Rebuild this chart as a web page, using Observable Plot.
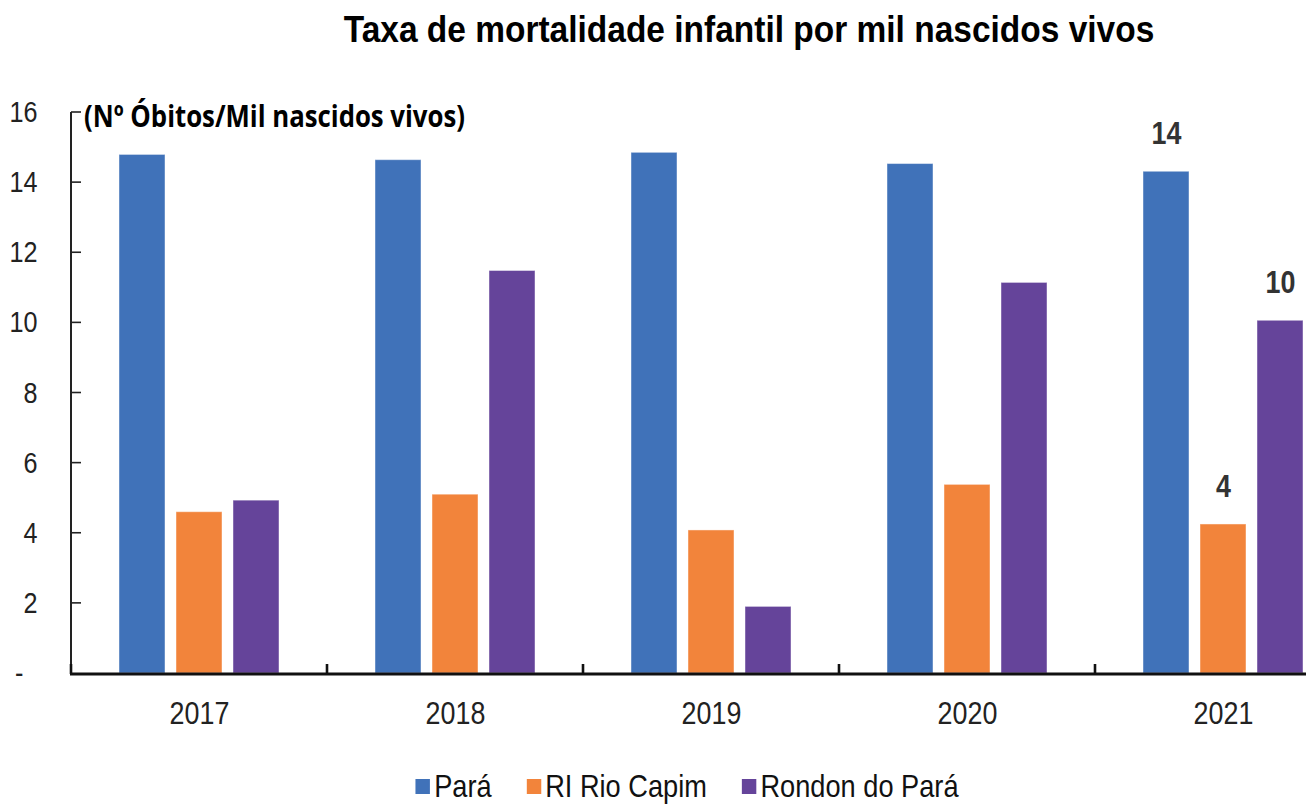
<!DOCTYPE html>
<html>
<head>
<meta charset="utf-8">
<script src="https://cdn.jsdelivr.net/npm/d3@7"></script>
<script src="https://cdn.jsdelivr.net/npm/@observablehq/plot@0.6"></script>
<style>
  html, body { margin: 0; padding: 0; background: #fff; overflow: hidden; width: 1306px; height: 804px; }
  #wrap { position: relative; width: 1306px; height: 804px; overflow: hidden; }
  #title { position: absolute; left: 749px; top: 9px; transform: translateX(-50%) scaleX(0.93); white-space: nowrap;
    font-family: "Liberation Sans", Arial, sans-serif; font-weight: bold; font-size: 36px; color: #000; }
  #chart { position: absolute; left: 0; top: 66px; width: 1351px; }
  #chart svg { display: block; overflow: visible; max-width: none !important; width: 1351px !important; height: 680px !important; }
  #legend { position: absolute; left: 687px; top: 771px; transform: translateX(-50%) scaleX(0.85); display: flex; gap: 41px; white-space: nowrap;
    font-family: "Liberation Sans", Arial, sans-serif; font-size: 32px; line-height: 30px; color: #111; align-items: center; }
  .item { display: flex; align-items: center; gap: 5px; }
  .sw { width: 17px; height: 15px; display: inline-block; }
</style>
</head>
<body>
<div id="wrap">
  <div id="title"></div>
  <div id="chart"></div>
  <div id="legend"></div>
</div>
<script>
const titleText = "Taxa de mortalidade infantil por mil nascidos vivos";
const yAxisLabel = "(Nº Óbitos/Mil nascidos vivos)";
const years = ["2017", "2018", "2019", "2020", "2021"];
const seriesNames = ["Pará", "RI Rio Capim", "Rondon do Pará"];
const seriesColors = ["#4072B9", "#F2843B", "#65449A"];
const para = [14.79, 14.64, 14.85, 14.53, 14.31];
const rioCapim = [4.6, 5.1, 4.08, 5.38, 4.25];
const rondon = [4.93, 11.48, 1.9, 11.14, 10.06];
const yTicks = [0, 2, 4, 6, 8, 10, 12, 14, 16];
const labelledYear = "2021";

document.getElementById("title").textContent = titleText;

const seriesValues = [para, rioCapim, rondon];
const rows = [];
years.forEach((yr, i) => seriesNames.forEach((s, j) => rows.push({year: yr, series: s, value: seriesValues[j][i]})));
const labelRows = rows.filter(d => d.year === labelledYear);

const W = 1351, H = 680, ML = 71, MT = 46, MB = 73;

const chart = Plot.plot({
  width: W,
  height: H,
  marginLeft: ML,
  marginRight: 0,
  marginTop: MT,
  marginBottom: MB,
  style: {fontFamily: "'Liberation Sans', Arial, sans-serif", fontSize: "31px", color: "#222", background: "transparent", overflow: "visible", maxWidth: "none"},
  y: {domain: [0, 16], range: [H - MB, MT], axis: null},
  fx: {domain: years, range: [ML, W], padding: 0, axis: null},
  x: {domain: seriesNames, paddingInner: 0.193, paddingOuter: 0.842, axis: null},
  color: {domain: seriesNames, range: seriesColors},
  marks: [
    Plot.barY(rows, {fx: "year", x: "series", y: "value", fill: "series", stroke: "#ffffff", strokeOpacity: 0.45, strokeWidth: 1}),
    Plot.text(labelRows, {fx: "year", x: "series", y: "value", text: d => String(Math.round(d.value)), dy: -38,
      fontWeight: "bold", fontSize: 32, fill: "#333"}),
    Plot.axisY({ticks: yTicks, tickSize: 0, tickPadding: 34, label: null, fontSize: 30,
      tickFormat: d => d === 0 ? "-\u00a0\u00a0" : String(d), fill: "#222"}),
    Plot.axisFx({anchor: "bottom", tickSize: 0, tickPadding: 28, label: null, fontSize: 32, fill: "#222"})
  ]
});
document.getElementById("chart").appendChild(chart);

// compress text horizontally (narrow typeface look), scaling about each text's anchor
for (const t of chart.querySelectorAll("text")) {
  const tr = t.getAttribute("transform");
  if (tr) {
    t.setAttribute("transform", `${tr} scale(0.84,1)`);
  } else {
    const x = parseFloat(t.getAttribute("x") || "0");
    if (!isNaN(x)) { t.removeAttribute("x"); t.setAttribute("transform", `translate(${x},0) scale(0.84,1)`); }
  }
}

// axis chrome drawn from the plot's own scales
const fxd = chart.scale("fx"), yd = chart.scale("y");
const fx = d3.scaleBand(fxd.domain, fxd.range).paddingInner(fxd.paddingInner ?? 0).paddingOuter(fxd.paddingOuter ?? 0);
const y = d3.scaleLinear(yd.domain, yd.range);
const svg = d3.select(chart);
const g = svg.append("g");
const left = fxd.range[0], right = fxd.range[1];
const y0 = y(0);
g.append("line").attr("x1", left).attr("x2", left).attr("y1", y(16)).attr("y2", y0)
  .attr("stroke", "#222").attr("stroke-width", 2);
for (const t of yTicks.filter(t => t > 0)) {
  g.append("line").attr("x1", left).attr("x2", left + 10).attr("y1", y(t)).attr("y2", y(t))
    .attr("stroke", "#222").attr("stroke-width", 1.6);
}
const bounds = years.map(yr => fx(yr)).concat([fx(years[years.length - 1]) + fx.bandwidth()]);
for (const b of bounds) {
  g.append("line").attr("x1", b).attr("x2", b).attr("y1", y0 - 9).attr("y2", y0 + 1)
    .attr("stroke", "#111").attr("stroke-width", 2.6);
}
g.append("line").attr("x1", left - 1).attr("x2", right).attr("y1", y0 + 1).attr("y2", y0 + 1)
  .attr("stroke", "#111").attr("stroke-width", 3);
g.append("text").attr("x", left + 13).attr("y", y(16) + 15)
  .attr("text-anchor", "start")
  .attr("font-family", "'Open Sans', sans-serif").attr("font-weight", "bold").attr("font-size", 31)
  .attr("textLength", 381).attr("lengthAdjust", "spacingAndGlyphs")
  .attr("fill", "#000").text(yAxisLabel);

const legend = document.getElementById("legend");
seriesNames.forEach((s, i) => {
  const it = document.createElement("div");
  it.className = "item";
  const sw = document.createElement("span");
  sw.className = "sw";
  sw.style.background = seriesColors[i];
  const tx = document.createElement("span");
  tx.textContent = s;
  it.appendChild(sw); it.appendChild(tx);
  legend.appendChild(it);
});
</script>
</body>
</html>
